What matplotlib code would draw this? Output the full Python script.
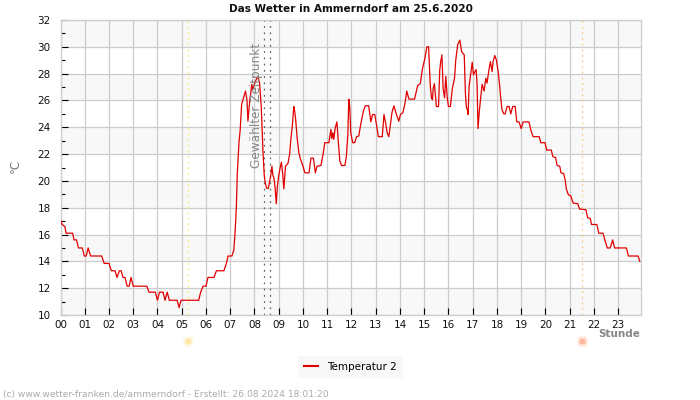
import matplotlib
matplotlib.use("Agg")
import matplotlib.pyplot as plt
from matplotlib.transforms import blended_transform_factory

# values
hours = [0.0, 0.07, 0.18, 0.23, 0.5, 0.56, 0.66, 0.74, 0.9, 0.98, 1.06, 1.14, 1.24, 1.7, 1.8, 2.0, 2.1, 2.25,
         2.33, 2.43, 2.5, 2.58, 2.66, 2.75, 2.83, 2.91, 3.0, 3.56, 3.65, 3.91, 4.0, 4.08, 4.23, 4.31, 4.4, 4.49,
         4.81, 4.89, 4.97, 5.7, 5.78, 5.88, 6.0, 6.08, 6.33, 6.43, 6.74, 6.84, 6.91, 7.07, 7.15, 7.2, 7.25,
         7.29, 7.36, 7.41, 7.47, 7.55, 7.63, 7.69, 7.73, 7.77, 7.81, 7.89, 7.93, 7.99, 8.07, 8.14, 8.21, 8.28,
         8.35, 8.4, 8.44, 8.5, 8.57, 8.62, 8.68, 8.72, 8.76, 8.8, 8.85, 8.9, 8.94, 9.0, 9.06, 9.11, 9.17, 9.21,
         9.28, 9.38, 9.45, 9.5, 9.56, 9.62, 9.65, 9.7, 9.76, 9.83, 9.9, 10.0, 10.08, 10.25, 10.33, 10.43, 10.51,
         10.58, 10.74, 10.83, 10.9, 11.07, 11.15, 11.19, 11.23, 11.27, 11.33, 11.4, 11.46, 11.52, 11.59, 11.73,
         11.79, 11.85, 11.89, 11.93, 11.97, 12.05, 12.13, 12.21, 12.3, 12.38, 12.49, 12.57, 12.71, 12.8, 12.87,
         12.96, 13.04, 13.11, 13.27, 13.34, 13.41, 13.47, 13.54, 13.6, 13.67, 13.75, 13.83, 13.95, 14.02, 14.12,
         14.21, 14.28, 14.37, 14.6, 14.73, 14.84, 14.92, 15.03, 15.11, 15.18, 15.25, 15.3, 15.34, 15.37, 15.42,
         15.48, 15.5, 15.59, 15.64, 15.68, 15.73, 15.78, 15.84, 15.89, 15.95, 16.0, 16.08, 16.16, 16.25, 16.3,
         16.38, 16.47, 16.54, 16.65, 16.7, 16.74, 16.8, 16.81, 16.85, 16.92, 16.98, 17.03, 17.09, 17.14, 17.18,
         17.22, 17.26, 17.32, 17.39, 17.47, 17.54, 17.59, 17.68, 17.73, 17.8, 17.84, 17.91, 17.98, 18.05, 18.1,
         18.16, 18.21, 18.28, 18.34, 18.42, 18.5, 18.57, 18.65, 18.75, 18.82, 18.91, 19.0, 19.08, 19.32, 19.41,
         19.49, 19.74, 19.81, 19.98, 20.05, 20.24, 20.31, 20.42, 20.48, 20.59, 20.64, 20.75, 20.81, 20.86, 20.95,
         21.04, 21.14, 21.33, 21.41, 21.67, 21.74, 21.85, 21.9, 22.12, 22.2, 22.37, 22.47, 22.55, 22.67, 22.77,
         22.85, 23.34, 23.42, 23.82, 23.89]
temps = [17.1, 16.75, 16.6, 16.1, 16.1, 15.6, 15.6, 15.0, 15.0, 14.4, 14.4, 15.0, 14.4, 14.4, 13.85, 13.85, 13.3, 13.3,
         12.8, 13.3, 13.3, 12.8, 12.8, 12.15, 12.15, 12.8, 12.15, 12.15, 11.7, 11.7, 11.1, 11.7, 11.7, 11.1, 11.7, 11.1,
         11.1, 10.55, 11.1, 11.1, 11.7, 12.15, 12.15, 12.8, 12.8, 13.3, 13.3, 13.85, 14.4, 14.4, 14.85, 16.2, 17.9,
         20.5, 22.85, 23.8, 25.7, 26.2, 26.7, 26.05, 24.45, 25.3, 26.05, 27.2, 26.8, 27.2, 27.55, 27.8, 27.3, 25.5,
         22.2, 20.5, 19.9, 19.45, 19.45, 19.9, 20.5, 21.1, 20.4, 20.25, 19.5, 18.3, 19.5, 20.4, 21.0, 21.4, 20.4, 19.4,
         21.1, 21.3, 22.0, 23.1, 24.1, 25.55, 25.3, 24.55, 23.2, 22.1, 21.6, 21.1, 20.6, 20.6, 21.7, 21.7, 20.6,
         21.1, 21.15, 22.0, 22.85, 22.85, 23.85, 23.15, 23.6, 23.1, 23.95, 24.4, 22.85, 21.5, 21.15, 21.15,
         21.85, 23.45, 26.1, 25.5, 23.6, 22.85, 22.85, 23.3, 23.35, 24.2, 25.2, 25.6, 25.6, 24.4, 24.95,
         24.95, 24.1, 23.3, 23.3, 24.95, 24.3, 23.6, 23.3, 24.1, 25.1, 25.6, 25.1, 24.45, 24.95, 25.1,
         25.8, 26.7, 26.1, 26.1, 27.1, 27.25, 28.3, 29.15, 30.0, 30.0, 27.1, 26.2, 26.05, 26.9, 27.25,
         26.05, 25.55, 25.55, 28.25, 28.9, 29.4, 26.9, 26.2, 27.8, 26.2, 25.55, 25.55, 26.9, 27.65, 29.0,
         30.15, 30.5, 29.65, 29.4, 26.5, 25.5, 25.2, 24.95, 27.05, 28.0, 28.85, 27.9, 28.15, 28.3, 27.2,
         23.9, 24.95, 26.05, 27.2, 26.7, 27.65, 27.3, 28.4, 28.9, 28.15, 28.9, 29.35, 29.0, 28.15, 27.3,
         26.1, 25.3, 25.0, 25.0, 25.55, 25.55, 25.0, 25.55, 25.55, 24.4, 24.4, 23.9, 24.4, 24.4, 23.7,
         23.3, 23.3, 22.85, 22.85, 22.3, 22.3, 21.8, 21.75, 21.15, 21.1, 20.6, 20.55, 20.1, 19.4, 18.95,
         18.9, 18.35, 18.3, 17.9, 17.85, 17.25, 17.2, 16.75, 16.75, 16.1, 16.1, 15.5, 15.0, 15.0, 15.6,
         15.0, 15.0, 14.4, 14.4, 14.0]

hour_labels = [f"{h:02d}" for h in range(24)]
y_major = list(range(10, 33, 2))
y_minor = list(range(11, 32, 2))
sunrise = 5.25
sunset = 21.5
selected = [8.4, 8.65]

fig = plt.figure(figsize=(7, 4), dpi=100)
ax = fig.add_axes([60.5 / 700, 85 / 400, 580 / 700, 295 / 400])
ax.set_xlim(0, 23.92)
ax.set_ylim(10, 32)
ax.set_axisbelow(True)

# grey bands every other 2 degrees
for low in y_major[:-1:2]:
    ax.axhspan(low, low + 2, color="#f8f8f8", lw=0, zorder=0)

ax.grid(True, color="#cccccc", lw=0.9, zorder=1)
ax.set_xticks(range(24))
ax.set_xticklabels(hour_labels)
ax.set_yticks(y_major)
ax.set_yticks(y_minor, minor=True)
ax.tick_params(axis="both", which="major", direction="in", length=5, width=0.8, color="black",
               labelsize=7.5, labelcolor="#111111", pad=3.5)
ax.tick_params(axis="y", which="major", pad=7)
ax.tick_params(axis="y", which="minor", direction="in", length=3, width=0.8, color="black")
for side in ax.spines.values():
    side.set_color("#cccccc")
    side.set_linewidth(0.9)

ax.axvline(sunrise, color="#f5e97a", lw=0.9, ls=(0, (1.5, 3)), zorder=2)
ax.axvline(sunset, color="#f5c98a", lw=0.9, ls=(0, (1.5, 3)), zorder=2)
for t in selected:
    ax.axvline(t, color="#666666", lw=0.9, ls=(0, (1.5, 3.5)), zorder=2)

line, = ax.plot(hours, temps, color="#e00000", lw=0.9, label="Temperatur 2", zorder=3)

ax.text(8.1, 32 - (43 - 20) / 13.41, "Gewählter Zeitpunkt", rotation=90, color="#888888", fontsize=8.7,
        ha="center", va="top", zorder=4)

# sun symbols below the axis
trans = blended_transform_factory(ax.transData, fig.transFigure)
sun_y = 1 - 341 / 400
for t, col, ray in [(sunrise, "#fde9a8", "#feF3cc"), (sunset, "#ffb9a0", "#ffd8c8")]:
    ax.scatter([t], [sun_y], s=60, marker=(12, 2, 0), color=ray, transform=trans, clip_on=False, lw=0.6)
    ax.scatter([t], [sun_y], s=20, color=col, transform=trans, clip_on=False, lw=0)

plt.title("Das Wetter in Ammerndorf am 25.6.2020", fontsize=7.6, fontweight="bold", pad=6, color="#111111")
fig.text(15.5 / 700, 1 - 166 / 400, "°C", rotation=90, color="#777777", fontsize=8.5, ha="center", va="center")
fig.text(640 / 700, 1 - 334 / 400, "Stunde", color="#888888", fontsize=7.5, fontweight="bold",
         ha="right", va="center")
fig.text(3 / 700, 1 - 394 / 400, "(c) www.wetter-franken.de/ammerndorf - Erstellt: 26.08.2024 18:01:20",
         color="#aaaaaa", fontsize=6.6, ha="left", va="center")

fig.legend(handles=[line], loc="center", bbox_to_anchor=(350.5 / 700, 1 - 367 / 400), fontsize=7.5,
           frameon=True, facecolor="#f8f8f8", edgecolor="none", fancybox=False, framealpha=1,
           handlelength=1.3, handletextpad=0.9, borderpad=0.55, borderaxespad=0)
fig.legends[0].get_lines()[0].set_linewidth(1.5)

plt.savefig("out.png", dpi=100)
